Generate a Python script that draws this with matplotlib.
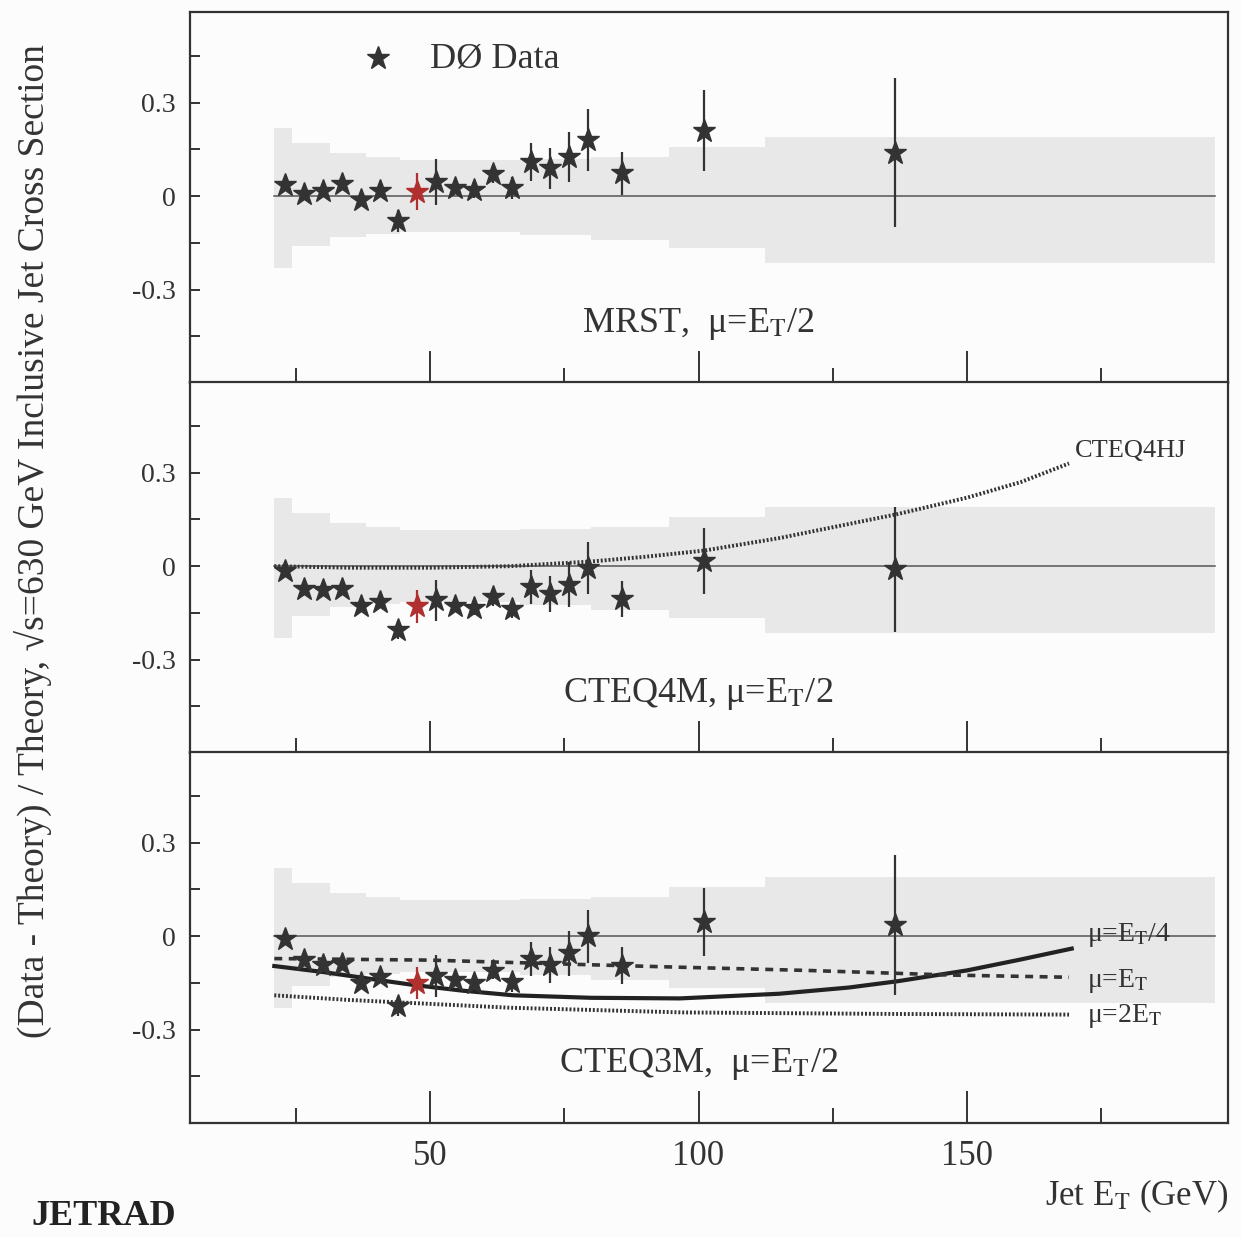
import matplotlib
matplotlib.use("Agg")
import matplotlib.pyplot as plt
import numpy as np
from matplotlib.ticker import FixedLocator

plt.rcParams['font.family'] = ['Liberation Serif', 'DejaVu Serif']
plt.rcParams['mathtext.fontset'] = 'stix'

# jet E_T bin centres (GeV)
jet_et = [23.0, 26.5, 30.1, 33.6, 37.2, 40.7, 44.0, 47.6, 51.1, 54.7,
          58.2, 61.7, 65.3, 68.8, 72.3, 75.9, 79.4, 85.8, 101.0, 136.6]

# (data - theory) / theory for each theory
mrst_y = [0.037, 0.006, 0.016, 0.038, -0.013, 0.016, -0.08, 0.014, 0.046, 0.027,
          0.02, 0.071, 0.025, 0.11, 0.089, 0.126, 0.18, 0.073, 0.21, 0.14]
mrst_err = [0.01, 0.01, 0.012, 0.012, 0.015, 0.02, 0.035, 0.06, 0.075, 0.02,
            0.025, 0.03, 0.035, 0.06, 0.065, 0.08, 0.1, 0.07, 0.13, 0.24]

cteq4m_y = [-0.016, -0.074, -0.077, -0.074, -0.128, -0.116, -0.205, -0.128, -0.11, -0.128,
            -0.135, -0.1, -0.138, -0.068, -0.09, -0.06, -0.006, -0.105, 0.016, -0.01]
cteq4m_err = [0.01, 0.01, 0.011, 0.011, 0.013, 0.018, 0.03, 0.053, 0.066, 0.018,
              0.022, 0.027, 0.03, 0.055, 0.058, 0.072, 0.085, 0.058, 0.107, 0.2]

cteq3m_y = [-0.01, -0.077, -0.092, -0.088, -0.15, -0.13, -0.225, -0.15, -0.128, -0.141,
            -0.15, -0.112, -0.148, -0.074, -0.092, -0.055, 0.0, -0.095, 0.045, 0.035]
cteq3m_err = [0.01, 0.01, 0.011, 0.011, 0.013, 0.018, 0.03, 0.052, 0.066, 0.018,
              0.022, 0.027, 0.03, 0.055, 0.058, 0.072, 0.085, 0.06, 0.11, 0.225]

# systematic uncertainty band (step edges)
band_et = [21, 24.3, 31.4, 38, 44.4, 55, 66.8, 80, 94.5, 112.4, 196.2]
band_hi = [0.22, 0.17, 0.14, 0.125, 0.115, 0.115, 0.12, 0.125, 0.157, 0.19, 0.19]
band_lo = [-0.23, -0.16, -0.13, -0.12, -0.115, -0.115, -0.125, -0.14, -0.167, -0.215, -0.215]

# theory curves
hj_et = [21, 35, 50, 65, 80, 90, 101, 115, 137, 150, 160, 169]
hj_y = [0.0, -0.005, -0.005, 0.0, 0.015, 0.03, 0.05, 0.09, 0.167, 0.22, 0.27, 0.33]

mu4_et = [21, 30, 40, 47, 56, 65.5, 80, 96.5, 115, 128, 137, 150, 160, 169.5]
mu4_y = [-0.096, -0.115, -0.14, -0.157, -0.175, -0.19, -0.198, -0.2, -0.185, -0.165,
         -0.145, -0.11, -0.075, -0.04]

mu1_et = [21, 50, 80, 97, 120, 147, 169]
mu1_y = [-0.072, -0.077, -0.092, -0.1, -0.11, -0.125, -0.132]

mu2_et = [21, 35, 47, 65, 97, 137, 169]
mu2_y = [-0.19, -0.205, -0.215, -0.23, -0.245, -0.25, -0.252]

panels = [
    ("MRST,  \u03bc=E$_\\mathrm{T}$/2", mrst_y, mrst_err),
    ("CTEQ4M, \u03bc=E$_\\mathrm{T}$/2", cteq4m_y, cteq4m_err),
    ("CTEQ3M,  \u03bc=E$_\\mathrm{T}$/2", cteq3m_y, cteq3m_err),
]

ink = '#333333'
red_idx = 7

fig = plt.figure(figsize=(12.41, 12.37), dpi=100)
fig.patch.set_facecolor('#fdfcfc')

bottoms = [0.6904, 0.3913, 0.0922]
axes = []
for i, (label, y, err) in enumerate(panels):
    ax = fig.add_axes([0.1531, bottoms[i], 0.8364, 0.2995])
    ax.set_facecolor('#fdfcfc')
    axes.append(ax)

    # grey band and zero line
    ax.fill_between(band_et, band_hi, band_lo, step='post', color='#e8e8e8', lw=0, zorder=1)
    ax.plot([band_et[0], band_et[-1]], [0, 0], color='#555555', lw=1.1, zorder=2)

    # data with errors
    et = np.array(jet_et)
    y = np.array(y)
    err = np.array(err)
    colors = [ink] * len(et)
    colors[red_idx] = '#b03030'
    for j in range(len(et)):
        ax.errorbar(et[j], y[j], yerr=err[j], fmt='none', ecolor=colors[j],
                    elinewidth=1.6, capsize=0, zorder=4)
        ax.plot(et[j], y[j], marker='*', ms=17, color=colors[j], mec=colors[j],
                ls='none', zorder=5)

    ax.text(100, -0.41, label, fontsize=26, ha='center', va='center', color=ink)

    # axes style
    ax.set_xlim(5.3, 198.6)
    ax.set_ylim(-0.6, 0.59)
    for s in ax.spines.values():
        s.set_linewidth(1.6)
        s.set_color(ink)
    ax.xaxis.set_major_locator(FixedLocator([50, 100, 150]))
    ax.xaxis.set_minor_locator(FixedLocator([25, 75, 125, 175]))
    ax.yaxis.set_major_locator(FixedLocator([-0.3, 0, 0.3]))
    ax.yaxis.set_minor_locator(FixedLocator([-0.45, -0.15, 0.15, 0.45]))
    ax.yaxis.set_major_formatter(plt.FixedFormatter(['-0.3', '0', '0.3']))
    ax.tick_params(axis='x', which='major', direction='in', length=23, width=1.4,
                   color=ink, labelsize=25, pad=12, labelcolor=ink)
    ax.tick_params(axis='x', which='minor', direction='in', length=11, width=1.4, color=ink)
    ax.tick_params(axis='y', which='both', direction='in', length=7, width=1.4,
                   color=ink, labelsize=20, pad=10, labelcolor=ink)
    if i < 2:
        ax.tick_params(axis='x', labelbottom=False)

# legend
axes[0].plot(40.3, 0.443, marker='*', ms=17, color=ink, ls='none')
axes[0].text(50, 0.44, "D\u00d8 Data", fontsize=26, va='center', color=ink)

# CTEQ4HJ curve
axes[1].plot(hj_et, hj_y, color=ink, lw=2.8, ls=(0, (0.5, 0.5)), zorder=3)
axes[1].text(170.1, 0.37, "CTEQ4HJ", fontsize=19, va='center', color=ink)

# scale variations for CTEQ3M
ax = axes[2]
ax.plot(mu4_et, mu4_y, color='#222222', lw=3, zorder=3)
ax.plot(mu1_et, mu1_y, color=ink, lw=2.6, ls=(0, (2.2, 1.8)), zorder=3)
ax.plot(mu2_et, mu2_y, color=ink, lw=2.8, ls=(0, (0.5, 0.5)), zorder=3)
ax.text(172.3, 0.005, "\u03bc=E$_\\mathrm{T}$/4", fontsize=20, va='center', color=ink)
ax.text(172.3, -0.145, "\u03bc=E$_\\mathrm{T}$", fontsize=20, va='center', color=ink)
ax.text(172.3, -0.257, "\u03bc=2E$_\\mathrm{T}$", fontsize=20, va='center', color=ink)

# axis titles
fig.text(0.027, 0.563, "(Data - Theory) / Theory, \u221as=630 GeV Inclusive Jet Cross Section",
         rotation=90, fontsize=27, ha='center', va='center', color=ink)
fig.text(0.99, 0.018, "Jet E$_\\mathrm{T}$ (GeV)", fontsize=25, ha='right', va='bottom', color=ink)

# logo at the bottom left
fig.text(0.025, 0.003, "JETRAD", fontsize=26, weight='bold', va='bottom', color='#222222')

fig.savefig("out.png", dpi=100, facecolor=fig.get_facecolor())
